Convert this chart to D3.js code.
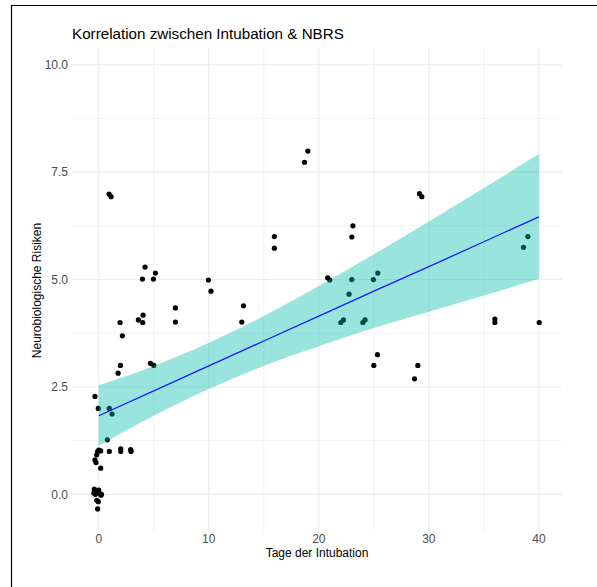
<!DOCTYPE html>
<html>
<head>
<meta charset="utf-8">
<script src="https://cdn.jsdelivr.net/npm/d3@7"></script>
<style>
  html, body { margin: 0; padding: 0; background: #fff; }
  svg { display: block; font-family: "Liberation Sans", Arial, Helvetica, sans-serif; }
</style>
</head>
<body>
<svg id="chart" width="597" height="587"></svg>
<script>
// Tage der Intubation (x) und Neurobiologische Risiken (y)
const intubationDays = [
  -0.4, -0.2, 0.0, 0.1, -0.3, 0.2, -0.1, 0.25, -0.45,
  -0.18, -0.04, -0.1,
  -0.34, -0.25, 0.18, -0.18,
  -0.1, 0.0, 0.18, 0.96, 2.0, 2.0, 2.9, 2.94,
  0.78, -0.34, -0.04, 0.96, 1.21,
  1.76, 1.97, 2.15, 1.94, 0.94, 1.12,
  3.6, 4.0, 4.03, 3.97, 4.97, 4.21, 5.15, 4.7, 5.0,
  6.97, 6.97, 9.97, 10.2, 13.0, 13.15,
  15.96, 15.96, 18.7, 19.0,
  20.8, 21.0, 22.0, 22.24, 22.75, 23.0, 23.0, 23.1, 24.0, 24.2, 24.96, 25.36, 25.0, 25.33,
  28.7, 29.0, 29.15, 29.36,
  36.0, 36.0, 38.6, 39.0, 40.03
];
const nbrsRisk = [
  0.12, 0.08, 0.1, 0.02, 0.0, -0.02, 0.05, 0.0, 0.03,
  -0.14, -0.17, -0.34,
  0.8, 0.74, 0.61, 0.92,
  1.0, 1.03, 1.01, 1.0, 1.06, 1.0, 1.04, 1.0,
  1.27, 2.28, 2.0, 2.0, 1.87,
  2.82, 3.0, 3.69, 4.0, 6.99, 6.93,
  4.06, 4.0, 4.17, 5.01, 5.01, 5.29, 5.15, 3.05, 3.0,
  4.34, 4.01, 4.99, 4.73, 4.01, 4.39,
  6.0, 5.73, 7.73, 7.99,
  5.04, 4.99, 4.0, 4.06, 4.66, 5.0, 5.99, 6.25, 4.0, 4.06, 5.0, 5.15, 3.0, 3.25,
  2.69, 3.0, 7.0, 6.93,
  4.08, 4.0, 5.75, 6.0, 4.0
];

// lineare Regression mit Konfidenzband
const fitX = [0, 5, 10, 15, 20, 25, 30, 35, 40];
const fitY = [1.83, 2.41, 2.99, 3.57, 4.15, 4.73, 5.30, 5.88, 6.46];
const fitLower = [1.13, 1.83, 2.45, 2.99, 3.45, 3.87, 4.25, 4.63, 5.01];
const fitUpper = [2.54, 2.99, 3.53, 4.15, 4.85, 5.59, 6.35, 7.13, 7.92];

const xTicks = [0, 10, 20, 30, 40];
const xMinor = [5, 15, 25, 35];
const yTicks = [0, 2.5, 5, 7.5, 10];
const yMinor = [1.25, 3.75, 6.25, 8.75];

const panel = { left: 72, right: 562, top: 48, bottom: 533 };
const svg = d3.select("#chart");

// Rahmen
svg.append("path")
  .attr("d", "M11.5,587 V5.5 H597")
  .attr("fill", "none")
  .attr("stroke", "#000")
  .attr("stroke-width", 1.2);

const x = d3.scaleLinear().domain([-2.43, 42.1]).range([panel.left, panel.right]);
const y = d3.scaleLinear().domain([-0.9, 10.39]).range([panel.bottom, panel.top]);

// Gitter
const grid = svg.append("g");
grid.selectAll(".vminor").data(xMinor).join("line")
  .attr("x1", d => x(d)).attr("x2", d => x(d))
  .attr("y1", panel.top).attr("y2", panel.bottom)
  .attr("stroke", "#ebebeb").attr("stroke-width", 0.6);
grid.selectAll(".hminor").data(yMinor).join("line")
  .attr("y1", d => y(d)).attr("y2", d => y(d))
  .attr("x1", panel.left).attr("x2", panel.right)
  .attr("stroke", "#ebebeb").attr("stroke-width", 0.6);
grid.selectAll(".vmajor").data(xTicks).join("line")
  .attr("x1", d => x(d)).attr("x2", d => x(d))
  .attr("y1", panel.top).attr("y2", panel.bottom)
  .attr("stroke", "#ebebeb").attr("stroke-width", 1.1);
grid.selectAll(".hmajor").data(yTicks).join("line")
  .attr("y1", d => y(d)).attr("y2", d => y(d))
  .attr("x1", panel.left).attr("x2", panel.right)
  .attr("stroke", "#ebebeb").attr("stroke-width", 1.1);

// Punkte
const points = intubationDays.map((d, i) => ({ x: d, y: nbrsRisk[i] }));
svg.append("g")
  .selectAll("circle")
  .data(points)
  .join("circle")
  .attr("cx", d => x(d.x))
  .attr("cy", d => y(d.y))
  .attr("r", 2.6)
  .attr("fill", "#000");

// Konfidenzband + Linie
const band = fitX.map((d, i) => ({ x: d, y: fitY[i], lo: fitLower[i], hi: fitUpper[i] }));
svg.append("path")
  .datum(band)
  .attr("d", d3.area().x(d => x(d.x)).y0(d => y(d.lo)).y1(d => y(d.hi)).curve(d3.curveMonotoneX))
  .attr("fill", "rgb(0,190,170)")
  .attr("fill-opacity", 0.4);
svg.append("path")
  .datum(band)
  .attr("d", d3.line().x(d => x(d.x)).y(d => y(d.y)))
  .attr("fill", "none")
  .attr("stroke", "#1a1aff")
  .attr("stroke-width", 1.3);

// Achsenbeschriftungen
svg.append("g")
  .selectAll("text")
  .data(xTicks)
  .join("text")
  .attr("x", d => x(d))
  .attr("y", 543)
  .attr("text-anchor", "middle")
  .attr("font-size", 12)
  .attr("fill", "#4d4d4d")
  .text(d => d);

svg.append("g")
  .selectAll("text")
  .data(yTicks)
  .join("text")
  .attr("x", 68)
  .attr("y", d => y(d))
  .attr("dy", "0.35em")
  .attr("text-anchor", "end")
  .attr("font-size", 12)
  .attr("fill", "#4d4d4d")
  .text(d => d3.format(".1f")(d));

svg.append("text")
  .attr("x", (panel.left + panel.right) / 2)
  .attr("y", 557)
  .attr("text-anchor", "middle")
  .attr("font-size", 12)
  .attr("fill", "#000")
  .text("Tage der Intubation");

svg.append("text")
  .attr("transform", `translate(41,${(panel.top + panel.bottom) / 2}) rotate(-90)`)
  .attr("text-anchor", "middle")
  .attr("font-size", 12)
  .attr("fill", "#000")
  .text("Neurobiologische Risiken");

svg.append("text")
  .attr("x", 72)
  .attr("y", 39)
  .attr("font-size", 15.2)
  .attr("fill", "#000")
  .text("Korrelation zwischen Intubation & NBRS");
</script>
</body>
</html>
